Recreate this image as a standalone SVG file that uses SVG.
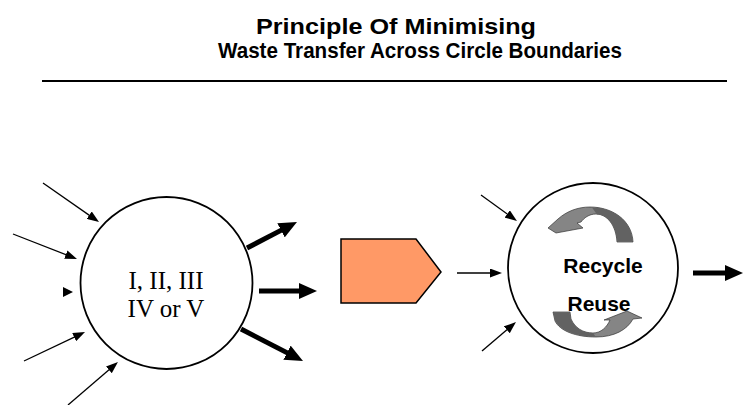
<svg xmlns="http://www.w3.org/2000/svg" width="746" height="405" viewBox="0 0 746 405">
<style>
.title{font-family:"Liberation Sans",Arial,sans-serif;font-weight:bold;font-size:22px;fill:#000}
.roman{font-family:"Liberation Serif","Times New Roman",serif;font-size:25px;fill:#000}
.lbl{font-family:"Liberation Sans",Arial,sans-serif;font-weight:bold;font-size:21px;fill:#000}
.circ{fill:#fff;stroke:#000;stroke-width:1.8}
.thin{stroke:#000;stroke-width:1.3;fill:none;marker-end:url(#hThin)}
.thick{stroke:#000;stroke-width:5;fill:none;marker-end:url(#hThick)}
.gl{fill:#858585;stroke:#333;stroke-width:0.7}
.gd{fill:#626262;stroke:none}
</style>
<defs>
<marker id="hThin" markerUnits="userSpaceOnUse" markerWidth="12" markerHeight="9" refX="6" refY="4.5" orient="auto"><path d="M0,0 L12,4.5 L0,9 Z" fill="#000"/></marker>
<marker id="hThick" markerUnits="userSpaceOnUse" markerWidth="18" markerHeight="16" refX="8" refY="8" orient="auto"><path d="M0,0 L18,8 L0,16 Z" fill="#000"/></marker>
</defs>
<rect width="746" height="405" fill="#fff"/>
<g id="title">
<text class="title" x="256" y="34" textLength="280" lengthAdjust="spacingAndGlyphs">Principle Of Minimising</text>
<text class="title" x="218" y="58" textLength="404" lengthAdjust="spacingAndGlyphs">Waste Transfer Across Circle Boundaries</text>
<line x1="42" y1="81" x2="727" y2="81" stroke="#000" stroke-width="2"/>
</g>
<g id="connectors">
<line class="thin" x1="43" y1="183" x2="94.1" y2="218.6"/>
<line class="thin" x1="13" y1="234" x2="71.4" y2="256.8"/>
<polygon points="63,287 73,292 63,297" fill="#000"/>
<line class="thin" x1="24" y1="361" x2="79.6" y2="334.6" stroke-width="1"/>
<line class="thin" x1="68" y1="405" x2="113.4" y2="365.9"/>
<line class="thick" x1="247" y1="248" x2="288.1" y2="226.6"/>
<line class="thick" x1="259" y1="291" x2="307" y2="291"/>
<line class="thick" x1="241" y1="329" x2="294.1" y2="356.4"/>
<line class="thin" x1="481" y1="195" x2="512.1" y2="217.5"/>
<line class="thin" x1="457" y1="273" x2="496" y2="273" stroke-width="2"/>
<line class="thin" x1="482" y1="351" x2="511.4" y2="325.9"/>
<line class="thick" x1="693" y1="273" x2="733" y2="273"/>
</g>
<g id="circle-left">
<circle class="circ" cx="166.5" cy="283" r="86"/>
<text class="roman" x="166" y="289" text-anchor="middle">I, II, III</text>
<text class="roman" x="166" y="317" text-anchor="middle">IV or V</text>
</g>
<g id="process">
<polygon points="341,239 416,239 441,272 416,303 341,303" fill="#ff9966" stroke="#000" stroke-width="1.5"/>
</g>
<g id="circle-right">
<circle class="circ" cx="593" cy="268" r="85"/>
<path class="gl" d="M558,219 C567,211 578,207 590,207 C612,207 632,220 633,242 L617,242 C616,225 607,214 596,214 C589,214 584,218 581,222 L577,223 L583,228 L556,233 L548,228 Z"/>
<path class="gd" d="M592,207.4 C613,207.4 632,220 632.6,241.6 L617.4,241.6 C616.4,225 607,214.4 597,214.4 Z"/>
<path class="gl" d="M553,312 L570,312 L571,319 C575,328 583,333 593,333 C601,333 607,327 610,320 L604,320 L627,311 L642,318 L633,319 C627,330 614,337 596,337 C576,337 560,331 555,321 Z"/>
<path class="gd" d="M553.4,312.4 L569.6,312.4 L570.6,319 C575,328 583,333 593,333 L595.5,336.6 C576,336.6 560.4,330.6 555.4,320.8 Z"/>
<text class="lbl" x="603" y="273" text-anchor="middle">Recycle</text>
<text class="lbl" x="599" y="311" text-anchor="middle">Reuse</text>
</g>
</svg>
